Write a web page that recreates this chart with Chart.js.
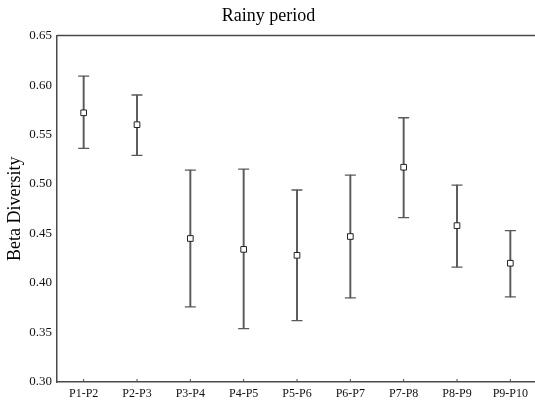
<!DOCTYPE html>
<html>
<head>
<meta charset="utf-8">
<script src="https://cdn.jsdelivr.net/npm/chart.js@4"></script>
<style>
    html, body { margin: 0; padding: 0; background: #fff; overflow: hidden; }
    #wrap { width: 538px; height: 404px; }
</style>
</head>
<body>
<div id="wrap"><canvas id="beta-chart"></canvas></div>
<script>
const pairs = ["P1-P2", "P2-P3", "P3-P4", "P4-P5", "P5-P6", "P6-P7", "P7-P8", "P8-P9", "P9-P10"];
const meanValues = [0.572, 0.560, 0.445, 0.434, 0.428, 0.447, 0.517, 0.458, 0.420];
const upperValues = [0.609, 0.590, 0.514, 0.515, 0.494, 0.509, 0.567, 0.499, 0.453];
const lowerValues = [0.536, 0.529, 0.376, 0.354, 0.362, 0.385, 0.466, 0.416, 0.386];
const yTicks = [0.30, 0.35, 0.40, 0.45, 0.50, 0.55, 0.60, 0.65];

const serif = "'Liberation Serif', 'Times New Roman', serif";
const axisColor = '#4a4a4a';
const whiskerColor = '#5a5a5a';

// frame line on top + little inside tick marks on the x axis
const framePlugin = {
    id: 'frame',
    afterDraw(chart) {
        const ctx = chart.ctx;
        const area = chart.chartArea;
        const x = chart.scales.x;
        ctx.save();
        ctx.strokeStyle = axisColor;
        ctx.lineWidth = 1.5;
        ctx.beginPath();
        ctx.moveTo(area.left, area.top);
        ctx.lineTo(area.right, area.top);
        ctx.stroke();
        ctx.lineWidth = 1;
        ctx.beginPath();
        x.ticks.forEach((t, i) => {
            const px = x.getPixelForTick(i);
            ctx.moveTo(px, area.bottom);
            ctx.lineTo(px, area.bottom - 3);
        });
        ctx.stroke();
        ctx.restore();
    }
};

const betaCanvas = document.getElementById("beta-chart").getContext("2d");

let betaData = {
    labels: pairs,
    datasets: [{
        type: 'line',
        data: meanValues,
        showLine: false,
        pointStyle: 'rect',
        pointRadius: 4,
        pointBackgroundColor: '#fff',
        pointBorderColor: '#222',
        pointBorderWidth: 1,
        order: 0
    }, {
        type: 'line',
        data: upperValues,
        showLine: false,
        pointStyle: 'line',
        pointRadius: 5.5,
        pointBorderColor: whiskerColor,
        pointBorderWidth: 1.3,
        order: 1
    }, {
        type: 'line',
        data: lowerValues,
        showLine: false,
        pointStyle: 'line',
        pointRadius: 5.5,
        pointBorderColor: whiskerColor,
        pointBorderWidth: 1.3,
        order: 1
    }, {
        type: 'bar',
        data: pairs.map((p, i) => [lowerValues[i], upperValues[i]]),
        backgroundColor: whiskerColor,
        borderWidth: 0,
        barThickness: 1.3,
        order: 3
    }]
};

let betaOptions = {
    responsive: true,
    maintainAspectRatio: false,
    animation: false,
    events: [],
    layout: {
        autoPadding: false,
        padding: { left: 0, right: 1, top: 0, bottom: 0 }
    },
    scales: {
        x: {
            offset: true,
            grid: { display: false, drawTicks: false },
            border: { color: axisColor, width: 1.5 },
            ticks: {
                padding: 5,
                color: '#111',
                font: { family: serif, size: 12 },
                maxRotation: 0,
                autoSkip: false
            },
            afterFit(scale) {
                scale.height = 22;
                scale.paddingLeft = 0;
                scale.paddingRight = 0;
            }
        },
        y: {
            min: 0.30,
            max: 0.65,
            afterBuildTicks(scale) {
                scale.ticks = yTicks.map(v => ({ value: v }));
            },
            grid: { display: false, drawTicks: false },
            border: { color: axisColor, width: 1.5 },
            ticks: {
                padding: 5,
                color: '#111',
                font: { family: serif, size: 13 },
                callback: v => v.toFixed(2)
            },
            title: {
                display: true,
                text: 'Beta Diversity',
                color: '#000',
                font: { family: serif, size: 18 },
                padding: { top: 4, bottom: 0 }
            },
            afterFit(scale) { scale.width = 57; }
        }
    },
    plugins: {
        legend: { display: false },
        tooltip: { enabled: false },
        title: {
            display: true,
            text: 'Rainy period',
            color: '#000',
            font: { family: serif, size: 18, weight: 'normal' },
            padding: { top: 5, bottom: 9 }
        }
    }
};

let betaChart = new Chart(betaCanvas, {
    type: 'bar',
    data: betaData,
    options: betaOptions,
    plugins: [framePlugin]
});
</script>
</body>
</html>
